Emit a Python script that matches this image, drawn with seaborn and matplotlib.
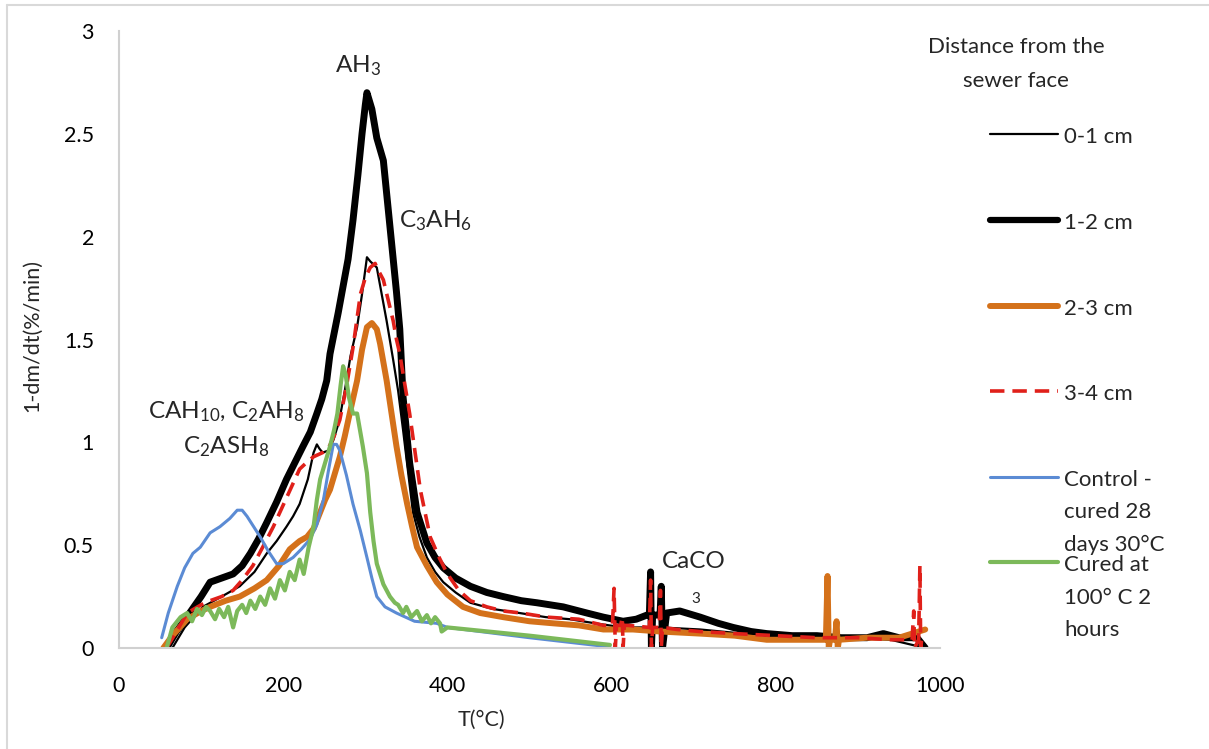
import matplotlib
matplotlib.use("Agg")
import matplotlib.pyplot as plt
import seaborn as sns
from matplotlib.lines import Line2D

# --- data (T in °C, rate in %/min) ---
t_01 = [65, 80, 102, 125, 147, 165, 180, 192, 204, 212, 220, 230, 237, 241, 244, 248, 255, 261,
        268, 275, 282, 290, 296, 302, 306, 314, 320, 326, 334, 340, 346, 352, 358, 366, 375, 385,
        395, 410, 428, 455, 488, 520, 549, 580, 614, 660, 708, 760, 829, 880, 940, 982]
y_01 = [0.0, 0.10, 0.20, 0.25, 0.30, 0.37, 0.46, 0.52, 0.59, 0.64, 0.70, 0.82, 0.95, 0.99, 0.97,
        0.95, 0.96, 1.01, 1.10, 1.25, 1.42, 1.56, 1.72, 1.90, 1.88, 1.85, 1.72, 1.59, 1.40, 1.25,
        1.06, 0.86, 0.66, 0.54, 0.44, 0.37, 0.32, 0.27, 0.22, 0.19, 0.17, 0.15, 0.14, 0.12, 0.10,
        0.10, 0.09, 0.07, 0.06, 0.05, 0.04, 0.0]

t_12 = [58, 70, 86, 100, 111, 125, 139, 150, 160, 170, 180, 192, 204, 214, 224, 233, 241, 247,
        253, 257, 262, 267, 273, 279, 285, 291, 296, 300, 302, 305, 308, 314, 322, 330, 338, 342,
        346, 354, 363, 375, 385, 395, 410, 428, 448, 468, 490, 509, 541, 570, 590, 614, 630, 643,
        646, 647.5, 648.5, 650, 657, 659, 660.5, 662, 667, 683, 708, 730, 748, 770, 789, 820, 850,
        880, 911, 931, 950, 972, 982]
y_12 = [0.0, 0.08, 0.17, 0.25, 0.32, 0.34, 0.36, 0.40, 0.46, 0.53, 0.61, 0.71, 0.82, 0.90, 0.98,
        1.05, 1.14, 1.21, 1.30, 1.43, 1.53, 1.63, 1.76, 1.89, 2.08, 2.30, 2.50, 2.64, 2.70, 2.66,
        2.62, 2.48, 2.37, 2.05, 1.73, 1.55, 1.22, 0.90, 0.66, 0.51, 0.44, 0.39, 0.34, 0.30, 0.27,
        0.25, 0.23, 0.22, 0.20, 0.17, 0.15, 0.13, 0.14, 0.16, 0.16, 0.37, 0.0, 0.16, 0.16, 0.16,
        0.30, 0.0, 0.17, 0.18, 0.15, 0.12, 0.10, 0.08, 0.07, 0.06, 0.06, 0.05, 0.05, 0.07, 0.05,
        0.05, 0.0]

t_23 = [54, 65, 83, 100, 111, 130, 147, 165, 180, 195, 208, 220, 229, 237, 245, 251, 257, 263,
        269, 275, 281, 290, 296, 302, 308, 314, 318, 326, 332, 338, 344, 351, 357, 363, 375, 387,
        400, 419, 440, 468, 500, 529, 560, 590, 626, 660, 708, 750, 789, 850, 861, 863, 864.5, 866,
        872, 874, 875.5, 877, 911, 950, 982]
y_23 = [0.0, 0.06, 0.14, 0.18, 0.20, 0.23, 0.25, 0.29, 0.33, 0.40, 0.48, 0.52, 0.54, 0.58, 0.66,
        0.72, 0.77, 0.85, 0.93, 1.03, 1.14, 1.30, 1.45, 1.56, 1.58, 1.55, 1.48, 1.30, 1.14, 0.98,
        0.84, 0.70, 0.59, 0.49, 0.40, 0.32, 0.26, 0.20, 0.17, 0.15, 0.13, 0.12, 0.11, 0.09, 0.09,
        0.08, 0.07, 0.06, 0.04, 0.04, 0.04, 0.35, 0.0, 0.04, 0.04, 0.13, 0.0, 0.04, 0.05, 0.05,
        0.09]

t_34 = [58, 70, 83, 100, 111, 125, 139, 150, 163, 175, 188, 204, 212, 220, 228, 237, 248, 255,
        262, 269, 277, 285, 294, 300, 306, 312, 314, 322, 334, 338, 342, 354, 367, 379, 390, 400,
        414, 428, 448, 468, 490, 521, 560, 590, 601, 603, 604.5, 606, 611, 613, 614, 615.5, 620,
        646, 647.5, 648.5, 650, 658, 659.5, 660.5, 662, 680, 708, 750, 800, 850, 900, 940, 966,
        968, 969, 974, 975.5, 976.5, 978, 982]
y_34 = [0.0, 0.08, 0.17, 0.21, 0.23, 0.25, 0.28, 0.33, 0.40, 0.49, 0.59, 0.73, 0.80, 0.87, 0.90,
        0.93, 0.95, 0.97, 1.03, 1.11, 1.27, 1.46, 1.72, 1.80, 1.85, 1.87, 1.85, 1.79, 1.59, 1.50,
        1.43, 1.14, 0.77, 0.54, 0.44, 0.36, 0.28, 0.23, 0.20, 0.18, 0.17, 0.15, 0.14, 0.11, 0.11,
        0.29, 0.0, 0.11, 0.11, 0.15, 0.0, 0.11, 0.11, 0.10, 0.33, 0.0, 0.10, 0.10, 0.28, 0.0, 0.10,
        0.09, 0.08, 0.07, 0.06, 0.05, 0.05, 0.04, 0.04, 0.18, 0.0, 0.04, 0.40, 0.0, 0.05, 0.05]

t_ctrl = [52, 60, 71, 80, 90, 99, 111, 123, 135, 144, 150, 156, 164, 172, 182, 192, 200, 212,
          222, 233, 241, 249, 255, 261, 265, 269, 277, 285, 294, 302, 308, 314, 324, 338, 360,
          387, 400, 500, 598]
y_ctrl = [0.05, 0.17, 0.30, 0.39, 0.46, 0.49, 0.56, 0.59, 0.63, 0.67, 0.67, 0.64, 0.59, 0.54,
          0.47, 0.41, 0.41, 0.44, 0.48, 0.53, 0.60, 0.72, 0.86, 0.99, 0.99, 0.96, 0.84, 0.70, 0.57,
          0.44, 0.34, 0.25, 0.20, 0.17, 0.13, 0.12, 0.10, 0.05, 0.005]

t_cured = [58, 65, 75, 83, 89, 95, 101, 106, 111, 117, 122, 128, 133, 139, 144, 150, 155, 160,
           166, 172, 178, 184, 190, 196, 202, 208, 214, 220, 225, 231, 237, 241, 245, 251, 257,
           262, 266, 270, 273, 276, 280, 285, 290, 297, 302, 306, 310, 314, 322, 330, 336, 340,
           346, 350, 356, 363, 369, 375, 380, 385, 391, 393, 400, 500, 598]
y_cured = [0.0, 0.10, 0.15, 0.17, 0.13, 0.19, 0.16, 0.20, 0.18, 0.14, 0.19, 0.15, 0.20, 0.10,
           0.18, 0.21, 0.17, 0.23, 0.19, 0.25, 0.21, 0.29, 0.24, 0.33, 0.28, 0.37, 0.33, 0.43, 0.36,
           0.49, 0.59, 0.72, 0.82, 0.90, 0.98, 1.06, 1.14, 1.28, 1.37, 1.33, 1.22, 1.14, 1.14, 0.98,
           0.85, 0.66, 0.52, 0.41, 0.31, 0.25, 0.22, 0.21, 0.17, 0.20, 0.15, 0.18, 0.13, 0.16, 0.12,
           0.15, 0.12, 0.08, 0.10, 0.06, 0.015]

series_t = [t_01, t_12, t_23, t_34, t_ctrl, t_cured]
series_y = [y_01, y_12, y_23, y_34, y_ctrl, y_cured]
series_labels = ["0-1 cm", "1-2 cm", "2-3 cm", "3-4 cm",
                 "Control -\ncured 28\ndays 30°C", "Cured at\n100° C 2\nhours"]
x_ticks = [0, 200, 400, 600, 800, 1000]
y_ticks = [0, 0.5, 1, 1.5, 2, 2.5, 3]
y_tick_labels = ["0", "0.5", "1", "1.5", "2", "2.5", "3"]

# styles
colors = ["black", "black", "#d4711a", "#e0201a", "#5b8bd4", "#7cb95a"]
widths = [1.6, 5.0, 4.3, 2.6, 2.2, 3.0]
dashes = [None, None, None, (4, 2.2), None, None]

sns.set_style("white")
plt.rcParams["font.family"] = ["Lato", "DejaVu Sans"]
plt.rcParams["mathtext.fontset"] = "custom"
plt.rcParams["mathtext.rm"] = "Lato"
plt.rcParams["mathtext.default"] = "regular"

fig = plt.figure(figsize=(12.09, 7.49), dpi=100)
ax = fig.add_axes([119 / 1209, 1 - 648 / 749, 821 / 1209, 617 / 749])

for t, y, c, w, d in zip(series_t, series_y, colors, widths, dashes):
    line_ax = sns.lineplot(x=t, y=y, ax=ax, color=c, linewidth=w, sort=False, estimator=None,
                           solid_capstyle="round")
    if d is not None:
        line_ax.lines[-1].set_dashes(d)
        line_ax.lines[-1].set_dash_capstyle("butt")

ax.set_xlim(0, 1000)
ax.set_ylim(0, 3)
ax.set_xticks(x_ticks)
ax.set_yticks(y_ticks)
ax.set_yticklabels(y_tick_labels)
ax.tick_params(axis="both", length=0, labelsize=15.5, colors="black")
ax.tick_params(axis="y", pad=18)
ax.tick_params(axis="x", pad=20)
for side in ["top", "right"]:
    ax.spines[side].set_visible(False)
for side in ["left", "bottom"]:
    ax.spines[side].set_color("#d0d0d0")
    ax.spines[side].set_linewidth(1.5)
ax.set_xlabel("T(°C)", fontsize=15.5)
ax.set_ylabel("1-dm/dt(%/min)", fontsize=15.5)
ax.xaxis.set_label_coords(0.441, -0.1)
ax.yaxis.set_label_coords(-0.093, 0.507)

# peak annotations
ann = dict(fontsize=17.5, ha="center", va="center")
ax.text(291, 2.83, "AH$_3$", **ann)
ax.text(385, 2.08, "C$_3$AH$_6$", **ann)
ax.text(131, 1.15, "CAH$_{10}$, C$_2$AH$_8$", **ann)
ax.text(131, 0.98, "C$_2$ASH$_8$", **ann)
ax.text(700, 0.42, "CaCO", **ann)
ax.text(702, 0.24, "3", fontsize=11, ha="center", va="center")

# legend drawn at the right, Excel style
fig.text(1016 / 1209, 1 - 47 / 749, "Distance from the", fontsize=16, ha="center", va="center")
fig.text(1016 / 1209, 1 - 81 / 749, "sewer face", fontsize=16, ha="center", va="center")
handle_y = [134, 220, 306, 391, 477, 562]
for hy, lab, c, w, d in zip(handle_y, series_labels, colors, widths, dashes):
    ln = Line2D([990 / 1209, 1058 / 1209], [1 - hy / 749, 1 - hy / 749], color=c,
                linewidth=min(w, 4.5), solid_capstyle="round", transform=fig.transFigure)
    if d is not None:
        ln.set_dashes(d)
    fig.add_artist(ln)
    for i, part in enumerate(lab.split("\n")):
        fig.text(1064 / 1209, 1 - (hy + 3 + i * 32.5) / 749, part, fontsize=16,
                 ha="left", va="center")

# chart-area border (top and left edges visible)
fig.add_artist(Line2D([7 / 1209, 1], [1 - 4.5 / 749, 1 - 4.5 / 749], color="#d9d9d9",
                      linewidth=1.5, transform=fig.transFigure))
fig.add_artist(Line2D([7 / 1209, 7 / 1209], [0, 1 - 4.5 / 749], color="#d9d9d9",
                      linewidth=1.5, transform=fig.transFigure))

fig.savefig("out.png", dpi=100)
